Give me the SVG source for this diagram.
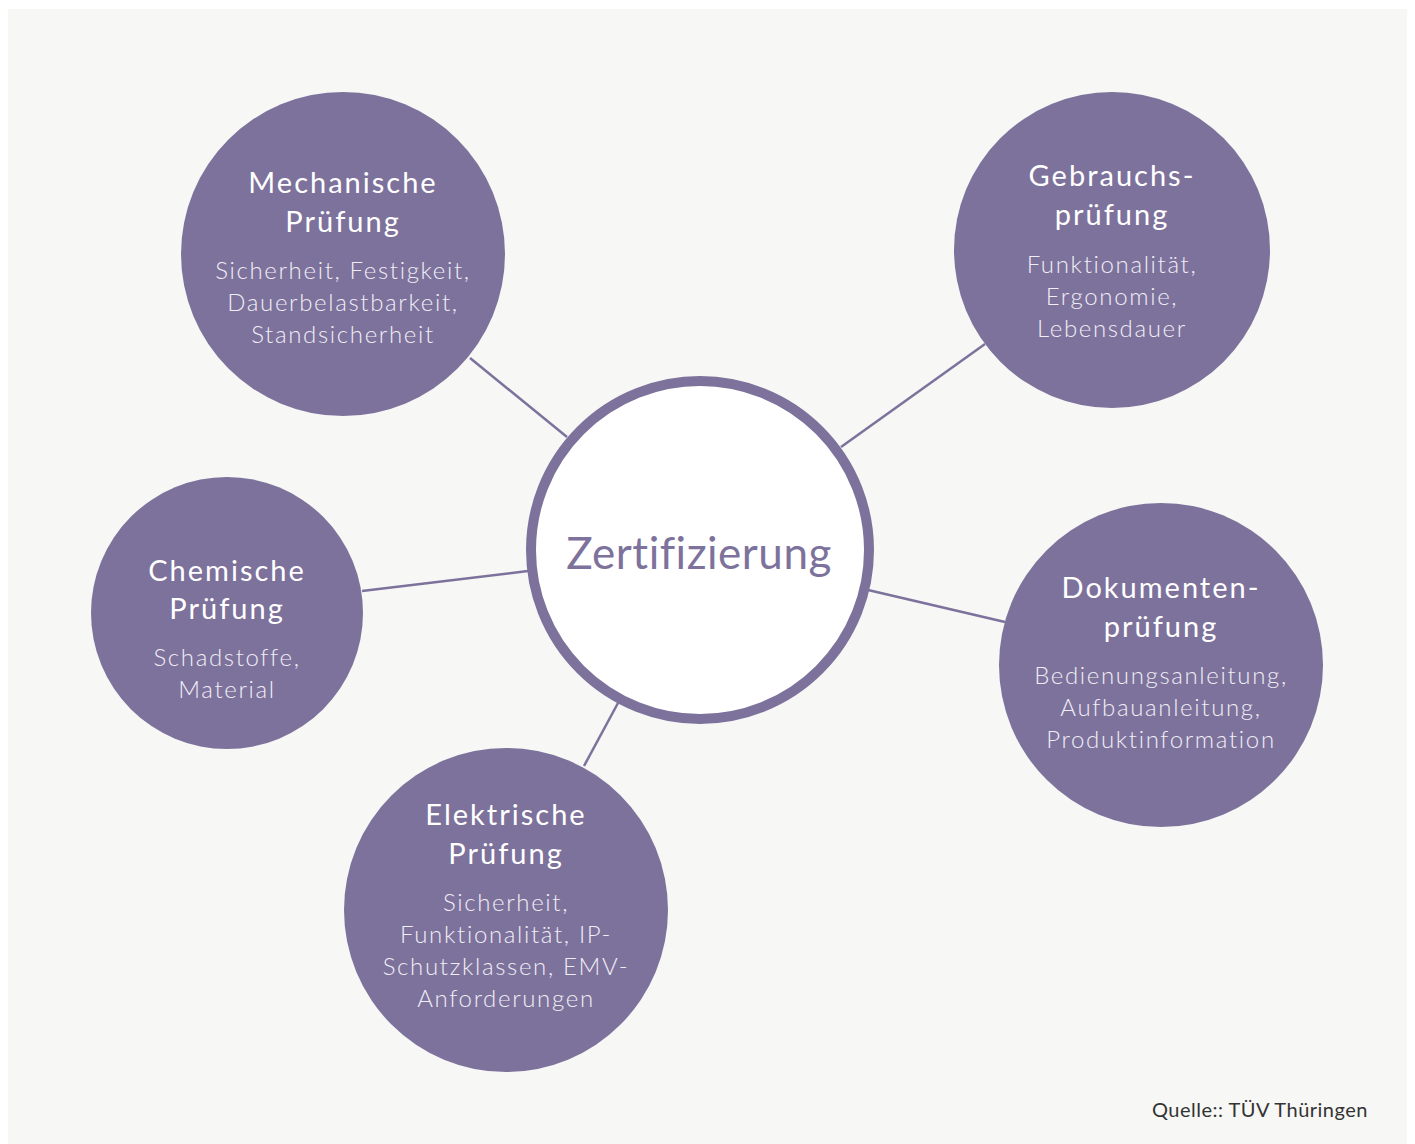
<svg xmlns="http://www.w3.org/2000/svg" width="1415" height="1144" viewBox="0 0 1415 1144">
<style>
.node{fill:#7d729c}
.t{font-family:Lato,"Liberation Sans",sans-serif;font-size:29px;fill:#ffffff;text-anchor:middle;letter-spacing:2px}
.s{font-family:Lato,"Liberation Sans",sans-serif;font-size:24px;font-weight:300;fill:#f0eef5;text-anchor:middle;letter-spacing:1.65px}
.c{stroke:#7d729c;stroke-width:2.5;fill:none}
</style>
<rect x="0" y="0" width="1415" height="1144" fill="#ffffff"/>
<rect x="8" y="9" width="1399" height="1135" fill="#f7f7f5"/>
<g id="connectors">
<line class="c" x1="470" y1="358" x2="567" y2="437"/>
<line class="c" x1="985" y1="344" x2="841" y2="447"/>
<line class="c" x1="362" y1="591" x2="528" y2="571"/>
<line class="c" x1="868" y1="590" x2="1005" y2="622"/>
<line class="c" x1="618" y1="703" x2="584" y2="766"/>
</g>
<g id="center">
<circle cx="700" cy="550" r="169" fill="#ffffff" stroke="#7d729c" stroke-width="10"/>
<text x="699" y="569" font-family="Lato,'Liberation Sans',sans-serif" font-size="44" fill="#7d729c" text-anchor="middle" letter-spacing="0.5">Zertifizierung</text>
</g>
<g id="mechanische">
<circle class="node" cx="343" cy="254" r="162"/>
<text class="t" x="343" y="193">Mechanische</text>
<text class="t" x="343" y="232">Prüfung</text>
<text class="s" x="343" y="279">Sicherheit, Festigkeit,</text>
<text class="s" x="343" y="311">Dauerbelastbarkeit,</text>
<text class="s" x="343" y="343">Standsicherheit</text>
</g>
<g id="gebrauchs">
<circle class="node" cx="1112" cy="250" r="158"/>
<text class="t" x="1112" y="186">Gebrauchs-</text>
<text class="t" x="1112" y="225">prüfung</text>
<text class="s" x="1112" y="273">Funktionalität,</text>
<text class="s" x="1112" y="305">Ergonomie,</text>
<text class="s" x="1112" y="337">Lebensdauer</text>
</g>
<g id="chemische">
<circle class="node" cx="227" cy="613" r="136"/>
<text class="t" x="227" y="581">Chemische</text>
<text class="t" x="227" y="619">Prüfung</text>
<text class="s" x="227" y="666">Schadstoffe,</text>
<text class="s" x="227" y="698">Material</text>
</g>
<g id="dokumenten">
<circle class="node" cx="1161" cy="665" r="162"/>
<text class="t" x="1161" y="598">Dokumenten-</text>
<text class="t" x="1161" y="637">prüfung</text>
<text class="s" x="1161" y="684">Bedienungsanleitung,</text>
<text class="s" x="1161" y="716">Aufbauanleitung,</text>
<text class="s" x="1161" y="748">Produktinformation</text>
</g>
<g id="elektrische">
<circle class="node" cx="506" cy="910" r="162"/>
<text class="t" x="506" y="825">Elektrische</text>
<text class="t" x="506" y="864">Prüfung</text>
<text class="s" x="506" y="911">Sicherheit,</text>
<text class="s" x="506" y="943">Funktionalität, IP-</text>
<text class="s" x="506" y="975">Schutzklassen, EMV-</text>
<text class="s" x="506" y="1007">Anforderungen</text>
</g>
<text x="1368" y="1117" font-family="Lato,'Liberation Sans',sans-serif" font-size="20" fill="#333333" text-anchor="end" letter-spacing="0.5">Quelle:: TÜV Thüringen</text>
</svg>
